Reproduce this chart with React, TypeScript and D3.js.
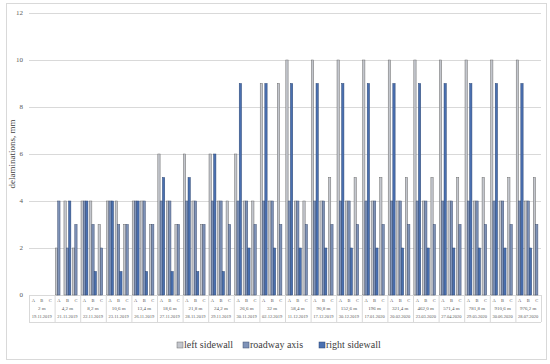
import React, { useEffect, useRef } from 'react';
import * as d3 from 'd3';

// distance from portal + survey date, one per group
const distances = [
  '2 m', '4,2 m', '8,2 m', '10,6 m', '13,4 m', '18,6 m', '21,8 m', '24,2 m', '26,6 m', '32 m',
  '58,4 m', '90,8 m', '152,6 m', '196 m', '321,4 m', '462,0 m', '571,4 m', '781,8 m', '910,6 m', '976,2 m',
];
const dates = [
  '19.11.2019', '21.11.2019', '22.11.2019', '23.11.2019', '26.11.2019', '27.11.2019', '28.11.2019',
  '29.11.2019', '30.11.2019', '02.12.2019', '11.12.2019', '17.12.2019', '30.12.2019', '17.01.2020',
  '20.02.2020', '23.03.2020', '27.04.2020', '29.05.2020', '30.06.2020', '28.07.2020',
];
const positions = ['A', 'B', 'C'];
const seriesNames = ['left sidewall', 'roadway axis', 'right sidewall'];

// values per group, in A, B, C order
const leftSidewall = [
  0, 0, 0,  2, 4, 2,  4, 4, 3,  4, 4, 3,  4, 4, 3,  6, 4, 3,  6, 4, 3,  6, 4, 4,  6, 4, 4,  9, 4, 9,
  10, 4, 4,  10, 4, 5,  10, 4, 5,  10, 4, 5,  10, 4, 5,  10, 4, 5,  10, 4, 5,  10, 4, 5,  10, 4, 5,  10, 4, 5,
];
const roadwayAxis = [
  0, 0, 0,  4, 2, 3,  4, 3, 2,  4, 3, 3,  4, 4, 3,  4, 4, 3,  4, 4, 3,  4, 4, 3,  4, 4, 3,  4, 4, 3,
  4, 4, 3,  4, 4, 3,  4, 4, 3,  4, 4, 3,  4, 4, 3,  4, 4, 3,  4, 4, 3,  4, 4, 3,  4, 4, 3,  4, 4, 3,
];
const rightSidewall = [
  0, 0, 0,  0, 4, 0,  4, 1, 0,  4, 1, 0,  4, 1, 0,  5, 1, 0,  5, 1, 0,  6, 1, 0,  9, 2, 0,  9, 2, 0,
  9, 2, 0,  9, 2, 0,  9, 2, 0,  9, 2, 0,  9, 2, 0,  9, 2, 0,  9, 2, 0,  9, 2, 0,  9, 2, 0,  9, 2, 0,
];
const yTicks = [0, 2, 4, 6, 8, 10, 12];

const fills = ['#c3c6cd', '#7f93b8', '#4a70b0'];
const strokes = ['#6b6b6b', '#3f4f70', '#2c4673'];

const App: React.FC = () => {
  const svgRef = useRef<SVGSVGElement>(null);
  const width = 550;
  const height = 364;

  useEffect(() => {
    if (!svgRef.current) return;
    const svg = d3.select(svgRef.current);
    svg.selectAll('*').remove();

    const left = 29, right = 541, top = 13, bottom = 295;
    const font = 'Liberation Serif, Times New Roman, serif';

    // chart frame
    svg.append('rect')
      .attr('x', 6.5).attr('y', 3.5)
      .attr('width', 540).attr('height', 356)
      .attr('fill', '#fff')
      .attr('stroke', '#d9d9d9');

    const y = d3.scaleLinear().domain([0, 12]).range([bottom, top]);
    const x0 = d3.scaleBand<number>().domain(d3.range(distances.length)).range([left, right]);
    const x1 = d3.scaleBand<string>().domain(positions).range([0, x0.bandwidth()]);
    const x2 = d3.scaleBand<string>().domain(seriesNames).range([0, x1.bandwidth()]).paddingOuter(0.35);

    // gridlines + tick labels
    svg.append('g').selectAll('line')
      .data(yTicks)
      .enter().append('line')
      .attr('x1', left).attr('x2', right)
      .attr('y1', (d) => Math.round(y(d)) + 0.5).attr('y2', (d) => Math.round(y(d)) + 0.5)
      .attr('stroke', '#d9d9d9');

    svg.append('g').selectAll('text')
      .data(yTicks)
      .enter().append('text')
      .attr('x', 23).attr('y', (d) => y(d))
      .attr('dy', '0.35em')
      .attr('text-anchor', 'end')
      .style('font-family', font)
      .style('font-size', '7px')
      .style('fill', '#595959')
      .text((d) => d);

    // axis title
    svg.append('text')
      .attr('transform', `translate(12,${(top + bottom) / 2}) rotate(-90)`)
      .attr('text-anchor', 'middle')
      .attr('dy', '0.35em')
      .style('font-family', font)
      .style('font-size', '9px')
      .style('fill', '#404040')
      .text('delaminations, mm');

    // bars
    const series = [leftSidewall, roadwayAxis, rightSidewall];
    const rows: { g: number; p: string; s: number; v: number }[] = [];
    distances.forEach((_, g) => {
      positions.forEach((p, pi) => {
        series.forEach((vals, s) => {
          rows.push({ g, p, s, v: vals[g * 3 + pi] });
        });
      });
    });

    svg.append('g').selectAll('rect')
      .data(rows.filter((d) => d.v > 0))
      .enter().append('rect')
      .attr('x', (d) => x0(d.g)! + x1(d.p)! + x2(seriesNames[d.s])!)
      .attr('y', (d) => y(d.v))
      .attr('width', x2.bandwidth())
      .attr('height', (d) => bottom - y(d.v))
      .attr('fill', (d) => fills[d.s])
      .attr('stroke', (d) => strokes[d.s])
      .attr('stroke-width', 0.5);

    // category table under the axis
    const tableBottom = 322;
    const tbl = svg.append('g');
    tbl.selectAll('line.sep')
      .data(d3.range(distances.length + 1))
      .enter().append('line')
      .attr('class', 'sep')
      .attr('x1', (d) => (d < distances.length ? x0(d)! : right) + 0.5)
      .attr('x2', (d) => (d < distances.length ? x0(d)! : right) + 0.5)
      .attr('y1', bottom).attr('y2', tableBottom)
      .attr('stroke', '#d9d9d9');
    tbl.append('line')
      .attr('x1', left).attr('x2', right)
      .attr('y1', tableBottom + 0.5).attr('y2', tableBottom + 0.5)
      .attr('stroke', '#d9d9d9');

    const groups = tbl.selectAll('g.grp')
      .data(distances)
      .enter().append('g')
      .attr('class', 'grp')
      .attr('transform', (_, i) => `translate(${x0(i)},0)`);

    groups.selectAll('text.pos')
      .data(positions)
      .enter().append('text')
      .attr('class', 'pos')
      .attr('x', (p) => x1(p)! + x1.bandwidth() / 2)
      .attr('y', 302)
      .attr('text-anchor', 'middle')
      .style('font-family', font)
      .style('font-size', '4.5px')
      .style('fill', '#595959')
      .text((p) => p);

    groups.append('text')
      .attr('x', x0.bandwidth() / 2).attr('y', 310)
      .attr('text-anchor', 'middle')
      .style('font-family', font)
      .style('font-size', '5px')
      .style('fill', '#595959')
      .text((d) => d);

    groups.append('text')
      .attr('x', x0.bandwidth() / 2).attr('y', 318)
      .attr('text-anchor', 'middle')
      .style('font-family', font)
      .style('font-size', '4.5px')
      .style('fill', '#595959')
      .text((_, i) => dates[i]);

    // legend
    const legendX = [177, 243, 319];
    const lg = svg.append('g').selectAll('g')
      .data(seriesNames)
      .enter().append('g')
      .attr('transform', (_, i) => `translate(${legendX[i]},348)`);
    lg.append('rect')
      .attr('x', 0).attr('y', -6)
      .attr('width', 6).attr('height', 6)
      .attr('fill', (_, i) => fills[i])
      .attr('stroke', (_, i) => strokes[i])
      .attr('stroke-width', 0.5);
    lg.append('text')
      .attr('x', 7).attr('y', 0)
      .style('font-family', font)
      .style('font-size', '10px')
      .style('fill', '#404040')
      .text((d) => d);
  }, []);

  return (
    <svg
      ref={svgRef}
      width={width}
      height={height}
      style={{ position: 'absolute', left: 0, top: 0, background: '#fff' }}
    />
  );
};

export default App;
